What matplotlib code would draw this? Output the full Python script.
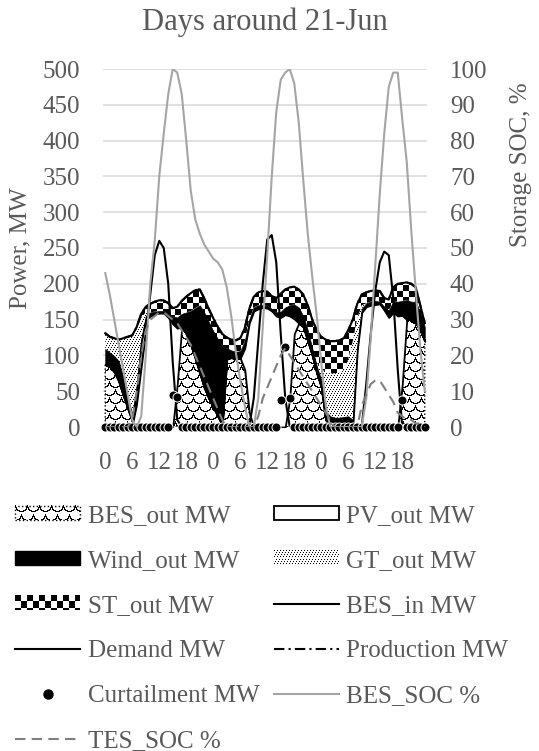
import numpy as np
import matplotlib
matplotlib.use('Agg')
import matplotlib.pyplot as plt
from matplotlib.patches import Rectangle
from matplotlib.lines import Line2D
from matplotlib.legend_handler import HandlerBase
from matplotlib.image import BboxImage
from matplotlib.transforms import Bbox, TransformedBbox

plt.rcParams['font.family'] = ['Liberation Serif', 'DejaVu Serif']
TXT = '#595959'

# hourly data, three days around 21-Jun
hours = list(range(72))
tick_pos = list(range(0, 72, 6))
tick_labels = ['0', '6', '12', '18'] * 3

bes_out = [87, 84, 77, 64, 44, 26, 8, 0, 0, 0, 0, 0, 0, 0, 0, 0, 60, 140, 130, 115, 96, 75, 55, 40,
           28, 15, 3, 95, 97, 95, 96, 80, 20, 0, 0, 0, 0, 0, 0, 0, 0, 40, 130, 145, 140, 120, 100, 75,
           56, 10, 0, 0, 0, 0, 0, 0, 0, 0, 0, 0, 0, 0, 0, 0, 0, 0, 60, 150, 150, 145, 135, 120]
pv_out = [0, 0, 0, 0, 0, 0, 0, 52, 118, 150, 155, 158, 159, 159, 153, 144, 78, 0, 0, 0, 0, 0, 0, 0,
          0, 0, 0, 0, 0, 0, 0, 30, 125, 162, 165, 167, 166, 162, 155, 153, 157, 115, 21, 0, 0, 0, 0, 0,
          0, 0, 0, 0, 0, 0, 0, 0, 107, 160, 168, 170, 171, 172, 163, 153, 160, 155, 96, 0, 0, 0, 0, 0]
wind_out = [22, 20, 22, 28, 25, 15, 10, 5, 5, 5, 5, 3, 3, 3, 5, 10, 15, 18, 30, 47, 70, 95, 105, 107,
            106, 108, 111, 15, 10, 10, 10, 10, 5, 5, 5, 3, 3, 3, 5, 8, 10, 15, 20, 22, 15, 15, 10, 10,
            10, 12, 15, 13, 13, 14, 15, 10, 5, 5, 5, 5, 5, 3, 5, 10, 15, 20, 20, 27, 25, 30, 25, 20]
gt_out = [22, 22, 25, 30, 55, 85, 110, 80, 30, 5, 0, 0, 0, 0, 0, 0, 0, 0, 0, 0, 0, 0, 0, 0,
          0, 0, 0, 0, 0, 0, 0, 0, 0, 0, 0, 0, 0, 0, 0, 0, 0, 0, 0, 0, 0, 0, 0, 5,
          15, 55, 60, 62, 63, 65, 80, 110, 40, 5, 0, 0, 0, 0, 0, 0, 0, 0, 0, 0, 0, 0, 0, 0]
st_out = [0, 0, 0, 0, 0, 0, 0, 3, 5, 8, 12, 14, 15, 15, 15, 12, 15, 18, 22, 25, 25, 22, 20, 18,
          18, 17, 16, 15, 15, 16, 18, 18, 15, 15, 18, 20, 20, 18, 20, 25, 25, 25, 25, 25, 30, 35, 40, 45,
          45, 45, 45, 45, 45, 45, 40, 30, 20, 15, 15, 15, 15, 15, 12, 15, 20, 25, 25, 25, 25, 20, 10, 5]
bes_in = [0, 0, 0, 0, 0, 0, 0, 30, 80, 130, 185, 240, 260, 250, 200, 90, 10, 0, 0, 0, 0, 0, 0, 0,
          0, 0, 0, 0, 0, 0, 0, 0, 0, 40, 120, 200, 262, 268, 230, 130, 40, 0, 0, 0, 0, 0, 0, 0,
          0, 0, 0, 0, 0, 0, 0, 0, 0, 0, 60, 130, 190, 230, 245, 240, 180, 80, 0, 0, 0, 0, 0, 0]
demand = [131, 126, 124, 122, 124, 126, 128, 140, 158, 168, 172, 175, 177, 177, 173, 166, 168, 176, 182, 187, 191, 192, 180, 165,
          152, 140, 130, 125, 122, 121, 124, 138, 165, 182, 188, 190, 189, 183, 180, 186, 192, 195, 196, 192, 185, 170, 150, 135,
          126, 122, 120, 120, 121, 124, 135, 150, 172, 185, 188, 190, 191, 190, 180, 178, 195, 200, 201, 202, 200, 195, 170, 145]
production = [131, 126, 124, 122, 124, 126, 128, 140, 158, 168, 172, 175, 177, 177, 173, 166, 168, 176, 182, 187, 191, 192, 180, 165,
              152, 140, 130, 125, 122, 121, 124, 138, 165, 182, 188, 190, 189, 183, 180, 186, 192, 195, 196, 192, 185, 170, 150, 135,
              126, 122, 120, 120, 121, 124, 135, 150, 172, 185, 188, 190, 191, 190, 180, 178, 195, 200, 201, 202, 200, 195, 170, 145]
curtailment = [0, 0, 0, 0, 0, 0, 0, 0, 0, 0, 0, 0, 0, 0, 0, 45, 42, 0, 0, 0, 0, 0, 0, 0,
               0, 0, 0, 0, 0, 0, 0, 0, 0, 0, 0, 0, 0, 0, 0, 38, 112, 40, 0, 0, 0, 0, 0, 0,
               0, 0, 0, 0, 0, 0, 0, 0, 0, 0, 0, 0, 0, 0, 0, 0, 0, 0, 38, 0, 0, 0, 0, 0]
bes_soc = [43, 37, 30, 23, 16, 9, 2, 0, 3, 20, 40, 52, 70, 82, 93, 100, 99, 93, 80, 66, 58, 54, 51, 49,
           47, 46, 44, 39, 31, 21, 13, 6, 0, 0, 8, 28, 48, 70, 88, 97, 99, 100, 96, 85, 69, 54, 42, 31,
           18, 6, 0, 0, 0, 0, 0, 0, 0, 0, 8, 25, 45, 65, 82, 95, 99, 99, 86, 74, 55, 38, 22, 10]
tes_soc = [0, 0, 0, 0, 0, 0, 2, 10, 20, 27, 30, 31, 32, 32, 31, 30, 29, 27, 25, 23, 20, 17, 14, 11,
           8, 5, 2, 0, 0, 0, 0, 0, 0, 0, 3, 8, 11, 14, 17, 20, 22, 20, 18, 16, 14, 12, 10, 8,
           6, 4, 2, 0, 0, 0, 0, 0, 0, 6, 9, 12, 13, 13, 11, 9, 7, 4, 3, 2, 2, 1, 1, 0]


def texture(kind, h, w):
    yy, xx = np.mgrid[0:h, 0:w]
    if kind == 'check':
        on = ((xx // 6) + (yy // 6)) % 2 == 0
    elif kind == 'dots':
        on = (yy % 2 == 0) & ((xx + (yy // 2) % 3) % 3 == 0)
    else:  # scales
        row = yy // 8
        xo = (xx + (row % 2) * 6) % 12
        yo = yy % 8
        on = np.abs(np.hypot(xo - 6, yo) - 6) < 0.7
    rgba = np.full((h, w, 4), 255, np.uint8)
    rgba[on, :3] = 0
    return rgba


class TextureHandler(HandlerBase):
    def __init__(self, kind, ls=None):
        super().__init__()
        self.kind = kind
        self.ls = ls

    def create_artists(self, legend, orig_handle, xdescent, ydescent, width, height, fontsize, trans):
        bb = TransformedBbox(Bbox.from_bounds(-xdescent, -ydescent, width, height), trans)
        k = legend.figure.dpi / 72
        img = BboxImage(bb, interpolation='nearest')
        img.set_data(texture(self.kind, max(int(round(height * k)), 1), max(int(round(width * k)), 1)))
        arts = [img]
        if self.ls:
            arts.append(Rectangle((-xdescent, -ydescent), width, height, fill=False,
                                  ec='black', lw=1, ls=self.ls, transform=trans))
        return arts


fig = plt.figure(figsize=(5.39, 7.51), dpi=100)
ax = fig.add_axes([103 / 539, 1 - 427 / 751, 324 / 539, 358 / 751])

polys = ax.stackplot(hours, bes_out, pv_out, wind_out, gt_out, st_out, zorder=2)
polys[0].set(facecolor='none', edgecolor='black', linestyle=':', linewidth=1.0)
polys[1].set(facecolor='white', edgecolor='black', linewidth=1.3)
polys[2].set(facecolor='black', edgecolor='black', linewidth=0.5)
polys[3].set(facecolor='none', edgecolor='none')
polys[4].set(facecolor='none', edgecolor='none')

bbox = ax.get_window_extent()
H, W = int(round(bbox.height)), int(round(bbox.width))
for poly, kind in [(polys[0], 'scales'), (polys[3], 'dots'), (polys[4], 'check')]:
    im = ax.imshow(texture(kind, H, W), extent=(-0.5, 71.5, 0, 500), origin='upper',
                   interpolation='nearest', aspect='auto', zorder=1.5)
    im.set_clip_path(poly.get_paths()[0], ax.transData)

ax.plot(hours, bes_in, color='black', lw=1.5, zorder=3)
ax.plot(hours, demand, color='black', lw=1.5, zorder=3)
ax.plot(hours, production, color='black', lw=1.5, ls=(0, (5, 2, 1, 2)), zorder=3)
ax.plot(hours, curtailment, 'o', color='black', ms=6.5, mec='white', mew=0.7,
        zorder=4, clip_on=False)

ax2 = ax.twinx()
ax2.plot(hours, bes_soc, color='#A5A5A5', lw=1.5)
ax2.plot(hours, tes_soc, color='#7F7F7F', lw=1.5, ls=(0, (5, 3)))

ax.set_xlim(-0.5, 71.5)
ax.set_ylim(0, 500)
ax.set_yticks(range(0, 501, 50))
ax2.set_ylim(0, 100)
ax2.set_yticks(range(0, 101, 10))
ax.set_xticks(tick_pos)
ax.set_xticklabels(tick_labels)

ax.set_axisbelow(True)
ax.yaxis.grid(True, color='#D9D9D9', lw=1.1)
for a in (ax, ax2):
    for s in a.spines.values():
        s.set_visible(False)
ax.tick_params(axis='y', length=0, pad=16.5, labelsize=18, labelcolor=TXT)
ax.tick_params(axis='x', length=0, pad=18, labelsize=18, labelcolor=TXT)
ax2.tick_params(axis='y', length=0, pad=16.5, labelsize=18, labelcolor=TXT)

ax.set_ylabel('Power, MW', fontsize=18, color=TXT, va='center')
ax.yaxis.set_label_coords((20 - 103) / 324, 0.5)
ax2.set_ylabel('Storage SOC, %', fontsize=18, color=TXT, va='center', rotation=90)
ax2.yaxis.set_label_coords((521 - 103) / 324, (427 - 165) / 358)

fig.text(265 / 539, 1 - 22 / 751, 'Days around 21-Jun', ha='center', va='center',
         fontsize=22, color=TXT)

h_bes = Rectangle((0, 0), 1, 1)
h_gt = Rectangle((0, 0), 1, 1)
h_st = Rectangle((0, 0), 1, 1)
h_pv = Rectangle((0, 0), 1, 1, facecolor='white', edgecolor='black', lw=1.3)
h_wind = Rectangle((0, 0), 1, 1, facecolor='black', edgecolor='black')
h_besin = Line2D([], [], color='black', lw=1.5)
h_dem = Line2D([], [], color='black', lw=1.5)
h_prod = Line2D([], [], color='black', lw=1.5, ls=(0, (5, 2, 1, 2)))
h_curt = Line2D([], [], marker='o', ls='none', color='black', ms=6.5)
h_bsoc = Line2D([], [], color='#A5A5A5', lw=1.5)
h_tsoc = Line2D([], [], color='#7F7F7F', lw=1.5, ls=(0, (5, 3)))

handles = [h_bes, h_wind, h_st, h_dem, h_curt, h_tsoc,
           h_pv, h_gt, h_besin, h_prod, h_bsoc]
labels = ['BES_out MW', 'Wind_out MW', 'ST_out MW', 'Demand MW', 'Curtailment MW', 'TES_SOC %',
          'PV_out MW', 'GT_out MW', 'BES_in MW', 'Production MW', 'BES_SOC %']
fig.legend(handles, labels, ncol=2, loc='upper left', bbox_to_anchor=(15 / 539, 1 - 505 / 751),
           frameon=False, fontsize=18, handlelength=2.6, handleheight=0.5, handletextpad=0.32,
           columnspacing=0.55, labelspacing=0.92, borderpad=0, borderaxespad=0, labelcolor=TXT,
           handler_map={h_bes: TextureHandler('scales', ':'), h_gt: TextureHandler('dots'),
                        h_st: TextureHandler('check')})

fig.savefig('out.png', dpi=100)
